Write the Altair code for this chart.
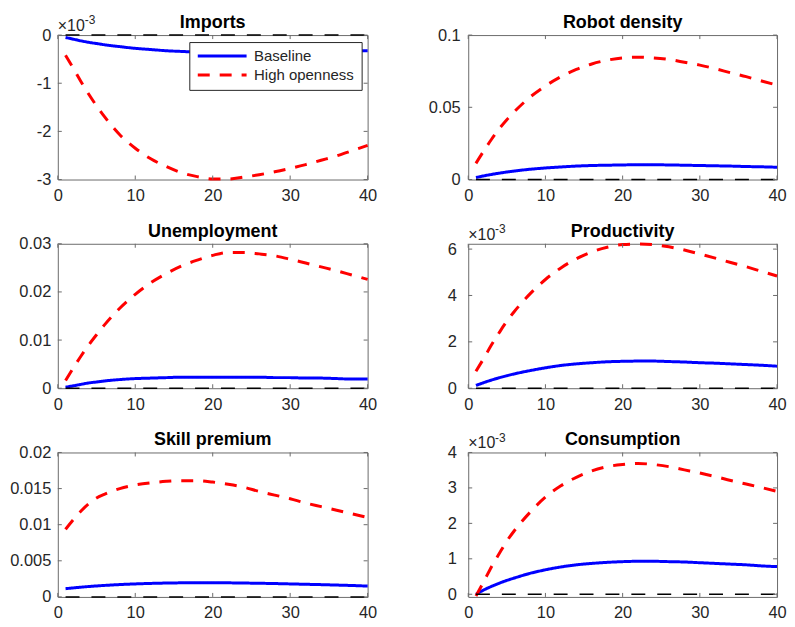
import altair as alt
import pandas as pd

# ---------------- data ----------------
periods = [1, 2, 3, 4, 5, 6, 8, 10, 12, 14, 16, 18, 20, 22, 24, 26, 28, 30, 32, 34, 36, 38, 40]
series_names = ["Baseline", "High openness"]

imports_baseline = [-0.00005, -0.000085, -0.00012, -0.00015, -0.000175, -0.0002, -0.00024, -0.000275,
                    -0.0003, -0.000325, -0.00034, -0.000355, -0.00036, -0.000365, -0.000365, -0.000365,
                    -0.00036, -0.000355, -0.00035, -0.000345, -0.00034, -0.00033, -0.000325]
imports_high = [-0.00042, -0.00069, -0.00097, -0.00123, -0.00147, -0.00169, -0.00207, -0.00235,
                -0.00257, -0.00273, -0.00286, -0.00294, -0.00299, -0.00299, -0.00295, -0.00290,
                -0.00284, -0.00277, -0.00269, -0.00260, -0.00251, -0.00240, -0.00229]

robot_baseline = [0.0014, 0.0025, 0.0035, 0.0044, 0.0052, 0.0059, 0.0071, 0.0080, 0.0087, 0.0093,
                  0.0097, 0.0099, 0.0101, 0.0102, 0.0102, 0.0101, 0.0099, 0.0097, 0.0095, 0.0093,
                  0.0090, 0.0088, 0.0085]
robot_high = [0.0112, 0.0197, 0.0277, 0.0350, 0.0414, 0.0471, 0.0570, 0.0648, 0.0712, 0.0762,
              0.0800, 0.0826, 0.0842, 0.0847, 0.0842, 0.0831, 0.0812, 0.0792, 0.0767, 0.0739,
              0.0712, 0.0682, 0.0654]

unemp_baseline = [0.0002, 0.0005, 0.0008, 0.0011, 0.0013, 0.0015, 0.0018, 0.0020, 0.0021, 0.0022,
                  0.0023, 0.0023, 0.0023, 0.0023, 0.0023, 0.0023, 0.0022, 0.0022, 0.0021, 0.0021,
                  0.0020, 0.0019, 0.0019]
unemp_high = [0.0016, 0.0042, 0.0067, 0.0090, 0.0111, 0.0131, 0.0166, 0.0195, 0.0219, 0.0238,
              0.0254, 0.0266, 0.0276, 0.0282, 0.0282, 0.0279, 0.0275, 0.0268, 0.0260, 0.0252,
              0.0244, 0.0235, 0.0226]

prod_baseline = [0.00012, 0.00024, 0.00035, 0.00045, 0.00054, 0.00062, 0.00076, 0.00088, 0.00098,
                 0.00105, 0.00110, 0.00114, 0.00116, 0.00117, 0.00117, 0.00115, 0.00113, 0.00110,
                 0.00108, 0.00105, 0.00102, 0.00099, 0.00095]
prod_high = [0.00073, 0.00128, 0.00186, 0.00239, 0.00289, 0.00332, 0.00407, 0.00469, 0.00519,
             0.00558, 0.00588, 0.00608, 0.00620, 0.00622, 0.00619, 0.00610, 0.00596, 0.00579,
             0.00561, 0.00542, 0.00524, 0.00504, 0.00484]

skill_baseline = [0.00114, 0.00125, 0.00135, 0.00144, 0.00152, 0.00159, 0.00171, 0.00180, 0.00187,
                  0.00192, 0.00195, 0.00196, 0.00196, 0.00195, 0.00192, 0.00189, 0.00185, 0.00180,
                  0.00175, 0.00170, 0.00164, 0.00158, 0.00150]
skill_high = [0.00936, 0.0107, 0.0119, 0.0129, 0.0137, 0.0142, 0.0150, 0.0155, 0.0158, 0.0160,
              0.0161, 0.0161, 0.0159, 0.0156, 0.0152, 0.0146, 0.0141, 0.0136, 0.0130, 0.0125,
              0.0120, 0.0115, 0.0110]

cons_baseline = [0.0, 0.00012, 0.00022, 0.00031, 0.00039, 0.00046, 0.00059, 0.00069, 0.00077,
                 0.00083, 0.00087, 0.00090, 0.00092, 0.00093, 0.00093, 0.00092, 0.00091, 0.00089,
                 0.00087, 0.00085, 0.00083, 0.00080, 0.00078]
cons_high = [-0.00005, 0.00035, 0.00077, 0.00114, 0.00150, 0.00180, 0.00231, 0.00274, 0.00306,
             0.00330, 0.00348, 0.00360, 0.00366, 0.00369, 0.00366, 0.00360, 0.00351, 0.00342,
             0.00332, 0.00321, 0.00311, 0.00301, 0.00290]

panel_titles = ["Imports", "Robot density", "Unemployment", "Productivity", "Skill premium", "Consumption"]
x_ticks = [0, 10, 20, 30, 40]
y_ticks = [
    [-0.003, -0.002, -0.001, 0],
    [0, 0.05, 0.1],
    [0, 0.01, 0.02, 0.03],
    [0, 0.002, 0.004, 0.006],
    [0, 0.005, 0.01, 0.015, 0.02],
    [0, 0.001, 0.002, 0.003, 0.004],
]
y_limits = [
    [-0.003, 0],
    [0, 0.1],
    [0, 0.03],
    [0, 0.00623],
    [0, 0.02],
    [-0.000075, 0.004],
]
x_limits = [0, 40]
scaled_panels = [True, False, False, True, False, True]
exponent_base = "\u00d710"
exponent_power = "-3"

# ---------------- style ----------------
FONT = "Liberation Sans"
AXIS_GREY = "#6b6b6b"
LABEL_COLOR = "#262626"
BLUE = "#0000ff"
RED = "#ff0000"
H = 145
LABEL_SIZE = 16.5


def panel(i, base, high, width, label_pad, with_legend):
    n = len(periods)
    df = pd.DataFrame({
        "t": periods + periods,
        "v": base + high,
        "s": [series_names[0]] * n + [series_names[1]] * n,
    })
    xs = alt.Scale(domain=x_limits, nice=False, zero=False)
    ys = alt.Scale(domain=y_limits[i], nice=False, zero=False)
    if scaled_panels[i]:
        label_expr = "'' + round(datum.value * 1000)"
    else:
        label_expr = "'' + datum.value"
    xaxis = alt.Axis(values=x_ticks, title=None, tickSize=0, labelPadding=8, labelFlush=False,
                     labelOverlap=False, domain=False, grid=False, ticks=False,
                     labelFont=FONT, labelFontSize=LABEL_SIZE, labelColor=LABEL_COLOR)
    yaxis = alt.Axis(values=y_ticks[i], title=None, tickSize=0, labelPadding=label_pad,
                     labelFlush=False, labelOverlap=False, domain=False, grid=False, ticks=False,
                     labelExpr=label_expr, minExtent=49,
                     labelFont=FONT, labelFontSize=LABEL_SIZE, labelColor=LABEL_COLOR)
    if with_legend:
        leg = alt.Legend(title=None, orient="none", legendX=132, legendY=7,
                         symbolType="stroke", symbolSize=2401, symbolStrokeWidth=3,
                         clipHeight=14, rowPadding=4, padding=7, labelOffset=6,
                         labelFont=FONT, labelFontSize=15, labelColor=LABEL_COLOR,
                         strokeColor=LABEL_COLOR, fillColor="white", cornerRadius=0)
    else:
        leg = None
    X = alt.X("t:Q", scale=xs, axis=xaxis)
    lines = alt.Chart(df).mark_line(strokeWidth=3, interpolate="monotone", strokeCap="butt").encode(
        x=X,
        y=alt.Y("v:Q", scale=ys, axis=yaxis),
        color=alt.Color("s:N", scale=alt.Scale(domain=series_names, range=[BLUE, RED]), legend=leg),
        strokeDash=alt.StrokeDash("s:N", scale=alt.Scale(domain=series_names, range=[[1, 0], [12, 10]]),
                                  legend=leg),
        order=alt.Order("s:N"),
    )
    zero_df = pd.DataFrame({"t": [periods[0], periods[-1]], "v": [0, 0]})
    zero = alt.Chart(zero_df).mark_line(color="black", strokeWidth=1.5, strokeDash=[14, 12]).encode(
        x=X,
        y=alt.Y("v:Q", scale=ys, axis=yaxis),
    )
    xt = pd.DataFrame({"t": x_ticks})
    yt = pd.DataFrame({"v": y_ticks[i]})
    tb = alt.Chart(xt).mark_rule(color=AXIS_GREY, strokeWidth=1).encode(
        x=X, y=alt.value(H), y2=alt.value(H - 4))
    tt = alt.Chart(xt).mark_rule(color=AXIS_GREY, strokeWidth=1).encode(
        x=X, y=alt.value(0), y2=alt.value(4))
    tl = alt.Chart(yt).mark_rule(color=AXIS_GREY, strokeWidth=1).encode(
        y=alt.Y("v:Q", scale=ys, axis=yaxis), x=alt.value(0), x2=alt.value(4))
    tr = alt.Chart(yt).mark_rule(color=AXIS_GREY, strokeWidth=1).encode(
        y=alt.Y("v:Q", scale=ys, axis=yaxis), x=alt.value(width), x2=alt.value(width - 4))
    title = alt.Chart(pd.DataFrame({"label": [panel_titles[i]]})).mark_text(
        font=FONT, fontSize=18, fontWeight="bold", align="center", baseline="alphabetic", color="black"
    ).encode(text="label:N", x=alt.value(width / 2), y=alt.value(-7))
    layers = [lines, zero, tb, tt, tl, tr, title]
    if scaled_panels[i]:
        e1 = alt.Chart(pd.DataFrame({"label": [exponent_base]})).mark_text(
            font=FONT, fontSize=16, align="left", baseline="alphabetic", color=LABEL_COLOR
        ).encode(text="label:N", x=alt.value(0), y=alt.value(-4))
        e2 = alt.Chart(pd.DataFrame({"label": [exponent_power]})).mark_text(
            font=FONT, fontSize=12, align="left", baseline="alphabetic", color=LABEL_COLOR
        ).encode(text="label:N", x=alt.value(27), y=alt.value(-11))
        layers += [e1, e2]
    return alt.layer(*layers).resolve_scale(color="independent", strokeDash="independent").properties(
        width=width, height=H)


p1 = panel(0, imports_baseline, imports_high, 311, 7, True)
p2 = panel(1, robot_baseline, robot_high, 310, 8, False)
p3 = panel(2, unemp_baseline, unemp_high, 311, 7, False)
p4 = panel(3, prod_baseline, prod_high, 310, 12, False)
p5 = panel(4, skill_baseline, skill_high, 311, 7, False)
p6 = panel(5, cons_baseline, cons_high, 310, 12, False)

chart = alt.concat(p1, p2, p3, p4, p5, p6, columns=2, spacing={"row": 17.5, "column": 41}).resolve_scale(
    color="independent", strokeDash="independent"
).properties(
    padding={"left": 0, "top": 4, "right": 0, "bottom": 0},
    background="white",
).configure_view(
    stroke=AXIS_GREY, strokeWidth=1
).configure_axis(
    labelFont=FONT, labelFontSize=LABEL_SIZE, labelColor=LABEL_COLOR
)

chart.save("out.html", embed_options={"renderer": "svg", "actions": False})
